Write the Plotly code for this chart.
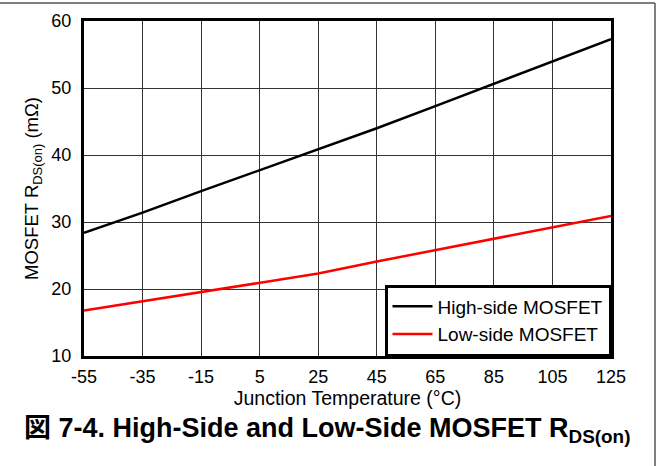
import plotly.graph_objects as go

temps = [-55, -35, -15, 5, 25, 45, 65, 85, 105, 125]
high_side = [28.4, 31.4, 34.6, 37.7, 40.8, 44.0, 47.3, 50.6, 53.9, 57.3]
low_side = [16.8, 18.2, 19.6, 21.0, 22.3, 24.1, 25.8, 27.5, 29.2, 30.9]
x_ticks = [-55, -35, -15, 5, 25, 45, 65, 85, 105, 125]
x_tick_labels = ["-55", "-35", "-15", "5", "25", "45", "65", "85", "105", "125"]
y_ticks = [10, 20, 30, 40, 50, 60]

FONT = "Liberation Sans, Arial, Noto Sans CJK JP, sans-serif"

fig = go.Figure()
fig.add_trace(go.Scatter(x=temps, y=high_side, mode="lines", name="High-side MOSFET",
                         line=dict(color="black", width=2.5)))
fig.add_trace(go.Scatter(x=temps, y=low_side, mode="lines", name="Low-side MOSFET",
                         line=dict(color="#ff0000", width=2.5)))

W, H = 658, 466
L, R, T, B = 84, 47, 21, 110
pw, ph = W - L - R, H - T - B

fig.update_layout(
    width=W, height=H,
    margin=dict(l=L, r=R, t=T, b=B),
    paper_bgcolor="white", plot_bgcolor="white",
    font=dict(family=FONT, color="black", size=18),
    showlegend=True,
    legend=dict(x=1, y=0, xanchor="right", yanchor="bottom",
                bordercolor="black", borderwidth=2.5, bgcolor="white",
                font=dict(size=19), tracegroupgap=0, itemwidth=40),
    xaxis=dict(range=[-55, 125], tickvals=x_ticks, ticktext=x_tick_labels, ticks="",
               showgrid=True, gridcolor="#333", gridwidth=1, zeroline=False,
               showline=True, linecolor="black", linewidth=3, mirror=True,
               automargin=False, ticklabelstandoff=2,
               title=dict(text="Junction Temperature (°C)", font=dict(size=19.5), standoff=3),
               tickfont=dict(size=18)),
    yaxis=dict(range=[10, 60], tickvals=y_ticks, ticks="",
               showgrid=True, gridcolor="#333", gridwidth=1, zeroline=False,
               showline=True, linecolor="black", linewidth=3, mirror=True,
               automargin=False, ticklabelstandoff=6,
               title=dict(text="MOSFET R<sub>DS(on)</sub> (mΩ)", font=dict(size=18.5), standoff=8),
               tickfont=dict(size=18)),
)

fig.add_annotation(
    text="<b>図 7-4. High-Side and Low-Side MOSFET R<sub>DS(on)</sub></b>",
    xref="paper", yref="paper",
    x=(22 - L) / pw, y=-(430 - (T + ph)) / ph,
    xanchor="left", yanchor="middle", showarrow=False,
    font=dict(size=27, family=FONT, color="black"),
)

# outer frame lines (top and right)
fig.add_shape(type="line", xref="paper", yref="paper", layer="above",
              x0=-L / pw, x1=(W - 3 - L) / pw, y0=1 + (T - 3) / ph, y1=1 + (T - 3) / ph,
              line=dict(color="#555", width=1.5))
fig.add_shape(type="line", xref="paper", yref="paper", layer="above",
              x0=(655 - L) / pw, x1=(655 - L) / pw, y0=-B / ph, y1=1 + (T - 3) / ph,
              line=dict(color="#555", width=1.5))

fig.write_html("out.html", config={"displayModeBar": False},
               post_script="document.body.style.margin='0';")
